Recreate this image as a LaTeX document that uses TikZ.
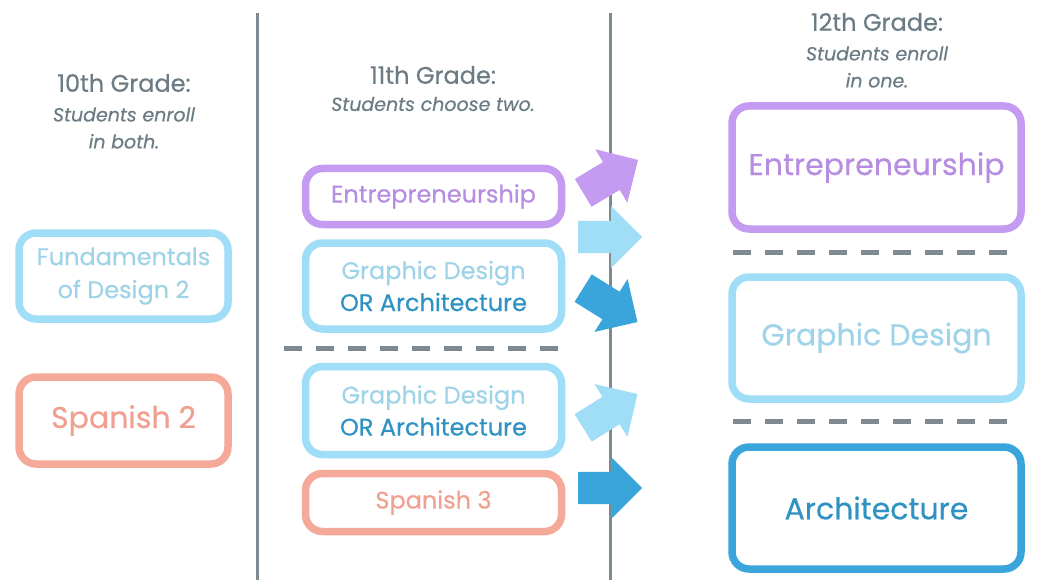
\documentclass[tikz,border=0pt]{standalone}
\usepackage{fontspec}
\setmainfont{Poppins}[FakeBold=0.5]
\usetikzlibrary{shapes.arrows}

\definecolor{lineGray}{HTML}{7D8A91}
\definecolor{textGray}{HTML}{6C7C84}
\definecolor{purpleC}{HTML}{C49BF0}
\definecolor{purpleT}{HTML}{B68DE0}
\definecolor{skyC}{HTML}{A0DDF7}
\definecolor{skyT}{HTML}{9ED3E8}
\definecolor{oceanC}{HTML}{3AA5DA}
\definecolor{oceanT}{HTML}{2F92C2}
\definecolor{salmonC}{HTML}{F4A999}
\definecolor{salmonT}{HTML}{EFA091}

\tikzset{
  course/.style={draw, rounded corners=17pt, line width=7.5pt, align=center, inner sep=0pt},
  head/.style={text=textGray, align=center, font=\fontsize{24}{28}\selectfont},
  sub/.style={text=textGray, align=center, font=\fontsize{19}{27}\selectfont\itshape},
  divider/.style={lineGray, line width=5pt, dash pattern=on 18pt off 14pt},
  bigarrow/.style={single arrow, draw=none, inner sep=0pt, text height=32pt, text depth=0pt,
    minimum height=64pt, single arrow head extend=15pt, single arrow head indent=0pt, anchor=tail},
}

\begin{document}
\begin{tikzpicture}[x=1pt,y=-1pt]
\useasboundingbox (0,0) rectangle (1056,580);

% column rules
\draw[lineGray, line width=3pt] (257,13)--(257,580) (610,13)--(610,580);

% headings
\node[head] (h10) at (124,83) {10th Grade:};
\node[sub] (s10) at (124,128) {Students enroll\\in both.};
\node[head] (h11) at (433,75) {11th Grade:};
\node[sub] (s11) at (433,104) {Students choose two.};
\node[head] (h12) at (877,22) {12th Grade:};
\node[sub] (s12) at (877,67) {Students enroll\\in one.};

% 10th grade
\node[course, draw=skyC, text=skyT, minimum width=209pt, minimum height=86pt,
  font=\fontsize{24}{33}\selectfont] (fund) at (123.5,276) {Fundamentals\\of Design 2};
\node[course, draw=salmonC, text=salmonT, minimum width=209pt, minimum height=87pt,
  font=\fontsize{30}{33}\selectfont] (span2) at (123.5,420.5) {Spanish 2};

% 11th grade
\node[course, draw=purpleC, text=purpleT, minimum width=256pt, minimum height=56pt,
  font=\fontsize{24}{32}\selectfont] (ent11) at (433.5,196.5) {Entrepreneurship};
\node[course, draw=skyC, text=skyT, minimum width=256pt, minimum height=86pt,
  font=\fontsize{24}{32}\selectfont] (gdA) at (433.5,286) {Graphic Design\\\textcolor{oceanT}{OR Architecture}};
\draw[divider] (284,348)--(565,348);
\node[course, draw=skyC, text=skyT, minimum width=256pt, minimum height=88pt,
  font=\fontsize{24}{32}\selectfont] (gdB) at (433.5,410.5) {Graphic Design\\\textcolor{oceanT}{OR Architecture}};
\node[course, draw=salmonC, text=salmonT, minimum width=256pt, minimum height=58pt,
  font=\fontsize{24}{32}\selectfont] (span3) at (433.5,502.5) {Spanish 3};

% 12th grade
\node[course, draw=purpleC, text=purpleT, minimum width=289pt, minimum height=123pt,
  font=\fontsize{30}{36}\selectfont] (ent12) at (876.5,167.5) {Entrepreneurship};
\draw[divider] (733,252)--(1015,252);
\node[course, draw=skyC, text=skyT, minimum width=289pt, minimum height=122pt,
  font=\fontsize{30}{36}\selectfont] (gd12) at (876.5,338) {Graphic Design};
\draw[divider] (733,421)--(1015,421);
\node[course, draw=oceanC, text=oceanT, minimum width=289pt, minimum height=122pt,
  font=\fontsize{30}{36}\selectfont] (arch12) at (876.5,508) {Architecture};

% arrows across the rule
\node[bigarrow, fill=purpleC, rotate=31] (a1) at (583,193) {};
\node[bigarrow, fill=skyC] (a2) at (578,237) {};
\node[bigarrow, fill=oceanC, rotate=-32] (a3) at (583,288) {};
\node[bigarrow, fill=skyC, rotate=32] (a4) at (583,428) {};
\node[bigarrow, fill=oceanC] (a5) at (578,488) {};
\end{tikzpicture}
\end{document}
